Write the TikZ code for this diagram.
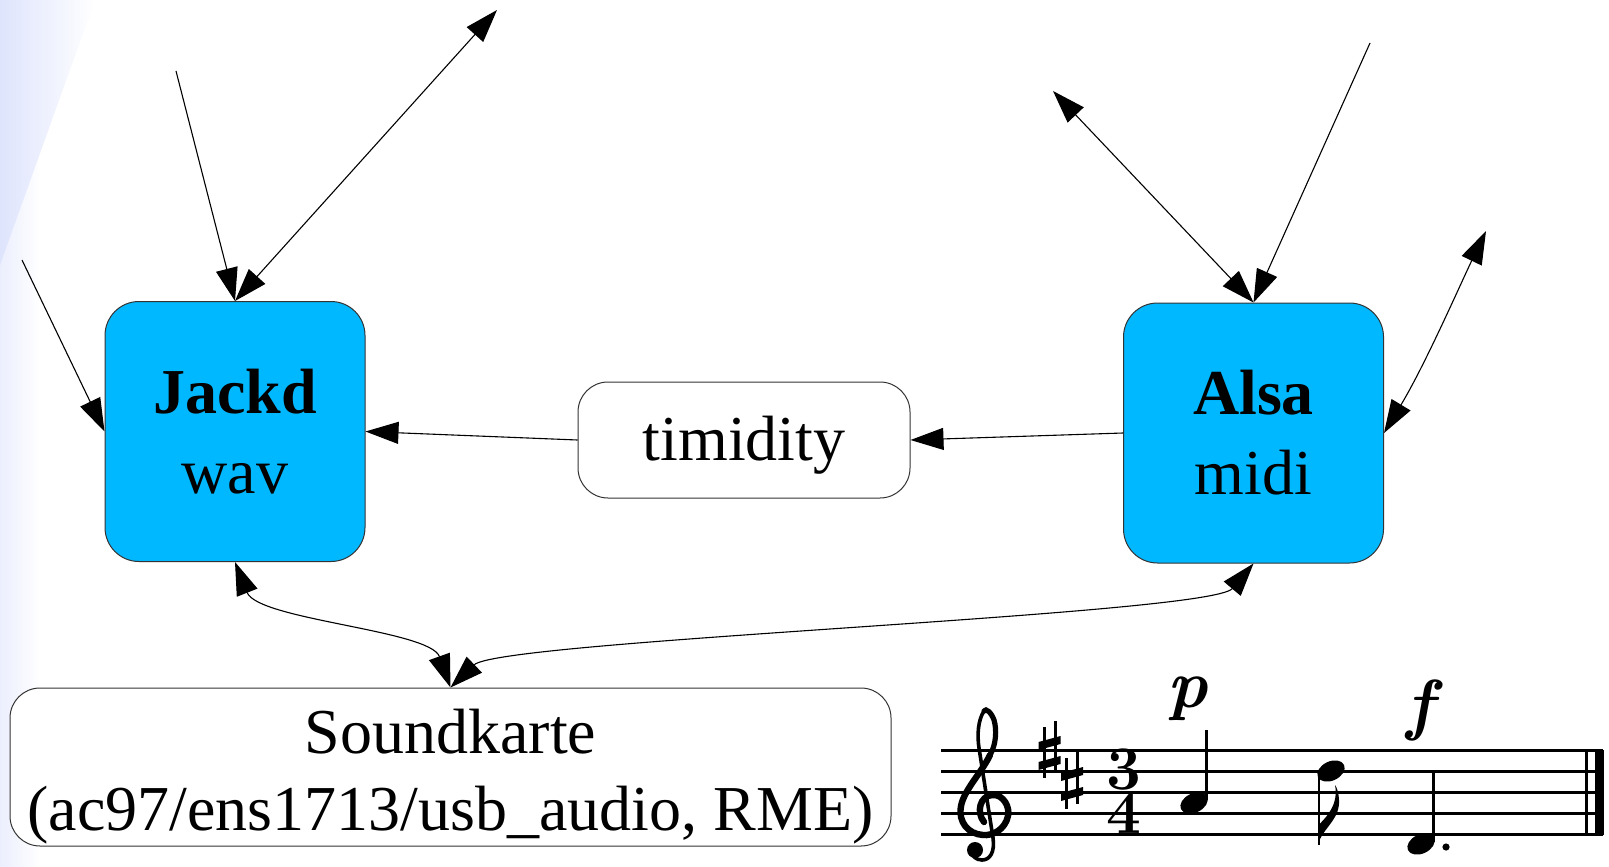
\documentclass[tikz,border=0pt]{standalone}
\usepackage{fontspec}
\setmainfont{Liberation Serif}
\newfontfamily\lmfont{Latin Modern Roman}
\usetikzlibrary{arrows.meta}
\definecolor{boxblue}{RGB}{0,184,255}
\definecolor{bgblue}{RGB}{222,228,252}
\begin{document}
\begin{tikzpicture}[x=0.5pt,y=-0.5pt,
  bigfont/.style={font=\fontsize{32}{40}\selectfont},
  bluebox/.style={draw=black!80, line width=0.5pt, fill=boxblue, rounded corners=17pt,
    minimum width=130pt, minimum height=130pt, inner sep=0pt, align=center, bigfont},
  whitebox/.style={draw=black!80, line width=0.5pt, fill=white, rounded corners=15pt,
    inner sep=0pt, align=center, bigfont},
  conn/.style={line width=0.55pt, -{Triangle[length=16.5pt,width=11pt]}},
  dconn/.style={line width=0.55pt, {Triangle[length=16.5pt,width=11pt]}-{Triangle[length=16.5pt,width=11pt]}},
  staffline/.style={line width=1.3pt},
  stem/.style={line width=1.4pt},
  tsig/.style={font=\lmfont\fontsize{31}{20.5}\selectfont\bfseries, inner sep=0pt, align=center},
  dyn/.style={font=\lmfont\fontsize{34}{34}\selectfont\bfseries\itshape, inner sep=0pt, anchor=base},
  sharp/.pic={
    \draw[line width=1.5pt] (-5.5,-24) -- (-5.5,27);
    \draw[line width=1.5pt] (5.5,-30) -- (5.5,22);
    \fill (-11,-9) -- (11,-15) -- (11,-7) -- (-11,-1) -- cycle;
    \fill (-11,11) -- (11,5) -- (11,13) -- (-11,19) -- cycle;
  },
]
\useasboundingbox (0,0) rectangle (1609,866);
\fill[white] (0,0) rectangle (1609,866);
\shade[left color=bgblue!60, right color=white] (0,0) rectangle (40,866);
\shade[left color=bgblue, right color=white] (0,0) -- (95,0) -- (0,265) -- cycle;

% main nodes
\node[bluebox] (jackd) at (235,431.5) {\textbf{Jackd}\\wav};
\node[bluebox] (alsa) at (1253.5,433) {\textbf{Alsa}\\midi};
\node[whitebox, minimum width=166pt, minimum height=58pt, text height=22pt, text depth=2pt] (timidity) at (744,440) {timidity};
\node[whitebox, minimum width=440.5pt, minimum height=79pt, font=\fontsize{32}{38.5}\selectfont] (sound) at (450.5,767)
  {\rule{0pt}{31.5pt}Soundkarte\\(ac97/ens1713/usb\_audio, RME)};

% free ends
\coordinate (j1) at (176,71);
\coordinate (j2) at (497,10);
\coordinate (j3) at (22,260);
\coordinate (a1) at (1370,43);
\coordinate (a2) at (1053,91);
\coordinate (a3) at (1486,231);

% connectors
\draw[conn] (j1) -- (jackd.north);
\draw[dconn] (j2) -- (jackd.north);
\draw[conn] (j3) -- (jackd.west);
\draw[conn] (timidity.west) -- (jackd.east);
\draw[conn] (alsa.west) -- (timidity.east);
\draw[conn] (a1) -- (alsa.north);
\draw[dconn] (a2) -- (alsa.north);
\draw[dconn] (a3) .. controls (1460,285) and (1425,365) .. (alsa.east);
\draw[dconn] (jackd.south) .. controls (258,620) and (430,630) .. (sound.north);
\draw[dconn] (alsa.south) .. controls (1210,615) and (500,640) .. (sound.north);

% music staff
\foreach \yy in {750.7,771.7,792.7,813.7,834.5}
  \draw[staffline] (941,\yy) -- (1603,\yy);
\draw[line width=1.5pt] (1586,750.7) -- (1586,834.5);
\fill (1595,750) rectangle (1603.5,835.2);

% treble clef
\draw[line width=3.2pt, line cap=round] (984,822)
  .. controls (976,812) and (980,796) .. (992,795)
  .. controls (1004,794) and (1010,808) .. (1008,816)
  .. controls (1005,830) and (992,836) .. (983,835)
  .. controls (968,834) and (958,822) .. (961,806)
  .. controls (964,790) and (982,772) .. (990,755);
\draw[line width=2.6pt, line cap=round] (990,755)
  .. controls (996,745) and (997,730) .. (994,720)
  .. controls (991,712) and (986,708) .. (984,711);
\draw[line width=1.8pt, line cap=round] (984,711)
  .. controls (978,720) and (977,735) .. (979,748)
  -- (993,838)
  .. controls (995,852) and (990,860) .. (982,860)
  .. controls (976,860) and (972,856) .. (972,852);
\fill (975,850) circle (4pt);

% key signature
\pic at (1049.5,751) {sharp};
\pic at (1072,782) {sharp};

% time signature
\node[tsig, anchor=base] (ts) at (1124,833.5) {3\\4};

% notes
\fill[rotate around={25:(1194,803)}] (1194,803) ellipse (7.2pt and 4.8pt);
\draw[stem] (1206.5,800) -- (1206.5,730);
\fill[rotate around={25:(1331,771)}] (1331,771) ellipse (7.2pt and 4.8pt);
\draw[stem] (1319,773) -- (1319,845);
\fill (1319.5,840) .. controls (1326,826) and (1340,818) .. (1339,800)
  .. controls (1338.5,792) and (1337,788) .. (1335,785)
  .. controls (1337,795) and (1336,808) .. (1319.5,824) -- cycle;
\fill[rotate around={25:(1421,844)}] (1421,844) ellipse (7.2pt and 4.8pt);
\draw[stem] (1433.5,842) -- (1433.5,772);
\fill (1446,847) circle (1.8pt);

% dynamics
\node[dyn] (dynp) at (1188,707) {p};
\node[dyn] (dynf) at (1420,727) {f};
\end{tikzpicture}
\end{document}
